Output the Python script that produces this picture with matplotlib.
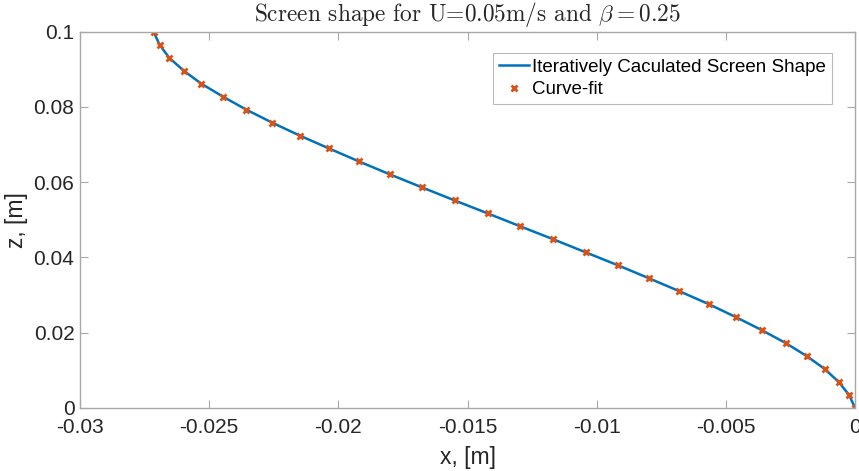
import matplotlib

matplotlib.use("Agg")

import matplotlib.pyplot as plt

# screen shape (30 points from z=0 to z=0.1)
z_m = [0.0, 0.00345, 0.00690, 0.01034, 0.01379, 0.01724, 0.02069, 0.02414,
       0.02759, 0.03103, 0.03448, 0.03793, 0.04138, 0.04483, 0.04828, 0.05172,
       0.05517, 0.05862, 0.06207, 0.06552, 0.06897, 0.07241, 0.07586, 0.07931,
       0.08276, 0.08621, 0.08966, 0.09310, 0.09655, 0.1]
x_m = [0.0, -0.00023, -0.00063, -0.00117, -0.00187, -0.00268, -0.00361, -0.00461,
       -0.00566, -0.00680, -0.00798, -0.00918, -0.01043, -0.01168, -0.01296, -0.01422,
       -0.01550, -0.01676, -0.01800, -0.01920, -0.02036, -0.02150, -0.02257, -0.02357,
       -0.02447, -0.02531, -0.02599, -0.02655, -0.02692, -0.02715]

x_ticks = [-0.03, -0.025, -0.02, -0.015, -0.01, -0.005, 0]
x_tick_labels = ["-0.03", "-0.025", "-0.02", "-0.015", "-0.01", "-0.005", "0"]
z_ticks = [0, 0.02, 0.04, 0.06, 0.08, 0.1]
z_tick_labels = ["0", "0.02", "0.04", "0.06", "0.08", "0.1"]

plt.rcParams.update(
    {
        "font.family": ["Liberation Sans", "DejaVu Sans"],
        "mathtext.fontset": "cm",
        "axes.linewidth": 1.0,
    }
)

fig = plt.figure(figsize=(8.59, 4.71), dpi=100)
ax = fig.add_axes([0.0931, 0.1338, 0.9023, 0.7989])

ax.plot(x_m, z_m, color="#0072BD", lw=1.8, label="Iteratively Caculated Screen Shape")
ax.plot(x_m, z_m, ls="none", marker="x", ms=5, mew=2, color="#D95319", label="Curve-fit")

ax.set_xlim(-0.03, 0)
ax.set_ylim(0, 0.1)
ax.set_xticks(x_ticks)
ax.set_xticklabels(x_tick_labels)
ax.set_yticks(z_ticks)
ax.set_yticklabels(z_tick_labels)

gray = "#a8a8a8"
for s in ax.spines.values():
    s.set_color(gray)
ax.tick_params(direction="in", length=5.5, width=0.8, color=gray, labelcolor="#262626",
               labelsize=15, top=True, right=True)
ax.tick_params(axis="x", pad=7)
ax.tick_params(axis="y", pad=4)

ax.set_xlabel("x, [m]", fontsize=16.5, color="#262626", labelpad=7)
ax.set_ylabel("z, [m]", fontsize=16.5, color="#262626", labelpad=4)
ax.set_title(r"Screen shape for U=0.05m/s and $\beta = 0.25$", family="cmr10",
             fontsize=16.8, color="#262626", pad=7.5)

leg = ax.legend(loc="upper right", bbox_to_anchor=(0.970, 0.944), fontsize=13.5,
                frameon=True, fancybox=False, handlelength=1.6, handletextpad=0.2,
                borderpad=0.3, labelspacing=0.3, borderaxespad=0)
leg.get_frame().set_edgecolor(gray)
leg.get_frame().set_linewidth(0.8)

fig.savefig("out.png", dpi=100)
